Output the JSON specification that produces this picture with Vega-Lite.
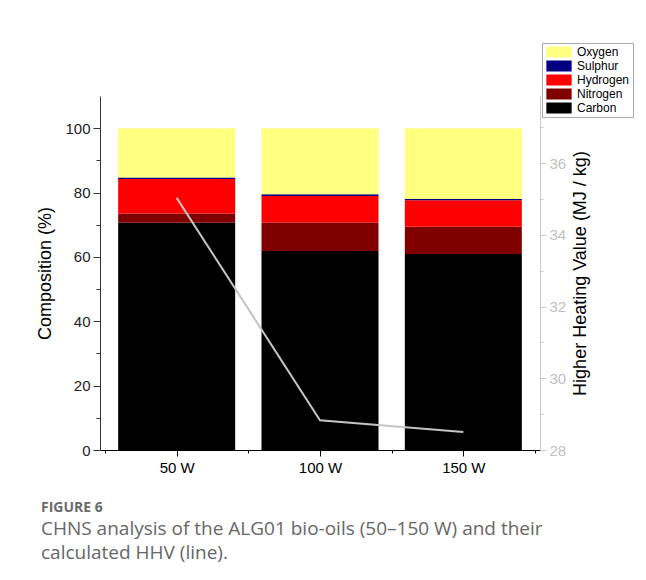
{
  "$schema": "https://vega.github.io/schema/vega-lite/v6.json",
  "width": 440,
  "height": 354,
  "autosize": {"type": "none"},
  "padding": {"left": 100, "top": 96, "right": 106, "bottom": 130},
  "background": "white",
  "config": {
    "view": {"stroke": null},
    "font": "Liberation Sans",
    "axis": {"labelFont": "Liberation Sans", "titleFont": "Liberation Sans", "titleFontWeight": "normal", "grid": false}
  },
  "title": {
    "text": "FIGURE 6",
    "subtitle": ["CHNS analysis of the ALG01 bio-oils (50–150 W) and their", "calculated HHV (line)."],
    "orient": "bottom",
    "anchor": "start",
    "frame": "bounds",
    "font": "Open Sans",
    "fontSize": 14,
    "fontWeight": "bold",
    "color": "#6a6a6a",
    "subtitleFont": "Open Sans",
    "subtitleFontSize": 19,
    "subtitleColor": "#666666",
    "subtitleLineHeight": 24,
    "subtitlePadding": 5,
    "offset": 26,
    "dx": 4
  },
  "datasets": {
    "comp": [
      {"power": 50, "element": "Carbon", "value": 70.6},
      {"power": 50, "element": "Nitrogen", "value": 2.9},
      {"power": 50, "element": "Hydrogen", "value": 10.7},
      {"power": 50, "element": "Sulphur", "value": 0.5},
      {"power": 50, "element": "Oxygen", "value": 15.3},
      {"power": 100, "element": "Carbon", "value": 61.8},
      {"power": 100, "element": "Nitrogen", "value": 8.9},
      {"power": 100, "element": "Hydrogen", "value": 8.2},
      {"power": 100, "element": "Sulphur", "value": 0.6},
      {"power": 100, "element": "Oxygen", "value": 20.5},
      {"power": 150, "element": "Carbon", "value": 60.9},
      {"power": 150, "element": "Nitrogen", "value": 8.5},
      {"power": 150, "element": "Hydrogen", "value": 8.2},
      {"power": 150, "element": "Sulphur", "value": 0.4},
      {"power": 150, "element": "Oxygen", "value": 22.0}
    ],
    "hhv": [
      {"power": 50, "hhv": 35.03},
      {"power": 100, "hhv": 28.83},
      {"power": 150, "hhv": 28.5}
    ]
  },
  "layer": [
    {
      "data": {"name": "comp"},
      "transform": [
        {"calculate": "indexof(['Carbon','Nitrogen','Hydrogen','Sulphur','Oxygen'], datum.element)", "as": "ord"}
      ],
      "mark": {"type": "bar", "width": 117},
      "encoding": {
        "x": {
          "field": "power",
          "type": "quantitative",
          "scale": {"domain": [25, 175], "nice": false, "zero": false},
          "axis": {
            "title": null,
            "values": [25, 50, 75, 100, 125, 150, 175],
            "labelExpr": "datum.value % 50 === 0 ? datum.value + ' W' : ''",
            "tickSize": {"condition": {"test": "datum.value % 50 === 0", "value": 6}, "value": 3},
            "domainColor": "#000000",
            "tickColor": "#000000",
            "labelColor": "#000000",
            "labelFontSize": 15,
            "labelPadding": 4,
            "labelFlush": false
          }
        },
        "y": {
          "field": "value",
          "type": "quantitative",
          "stack": "zero",
          "scale": {"domain": [0, 110], "nice": false},
          "axis": {
            "title": "Composition (%)",
            "titleFontSize": 18,
            "titleColor": "#000000",
            "titlePadding": 10,
            "values": [0, 10, 20, 30, 40, 50, 60, 70, 80, 90, 100],
            "labelExpr": "datum.value % 20 === 0 ? datum.label : ''",
            "tickSize": {"condition": {"test": "datum.value % 20 === 0", "value": 7}, "value": 4},
            "domainColor": "#333333",
            "tickColor": "#333333",
            "labelColor": "#222222",
            "labelFontSize": 15,
            "labelPadding": 3
          }
        },
        "color": {
          "field": "element",
          "type": "nominal",
          "scale": {
            "domain": ["Oxygen", "Sulphur", "Hydrogen", "Nitrogen", "Carbon"],
            "range": ["#FFFF80", "#000080", "#FF0000", "#800000", "#000000"]
          },
          "legend": {
            "title": null,
            "orient": "none",
            "legendX": 442,
            "legendY": -53,
            "symbolType": "M-2.3,-1H2.3V1H-2.3Z",
            "symbolSize": 121,
            "symbolStrokeWidth": 0,
            "symbolOffset": 8,
            "labelFont": "Liberation Sans",
            "labelFontSize": 12,
            "labelColor": "#000000",
            "labelOffset": 12,
            "rowPadding": 2,
            "padding": 3,
            "strokeColor": "#aaaaaa",
            "fillColor": "#ffffff"
          }
        },
        "order": {"field": "ord", "type": "quantitative"}
      }
    },
    {
      "data": {"name": "hhv"},
      "mark": {"type": "line", "color": "#c4c4c4", "strokeWidth": 2},
      "encoding": {
        "x": {"field": "power", "type": "quantitative"},
        "y": {
          "field": "hhv",
          "type": "quantitative",
          "scale": {"domain": [28, 37.87], "nice": false, "zero": false},
          "axis": {
            "orient": "right",
            "title": "Higher Heating Value (MJ / kg)",
            "titleFontSize": 18,
            "titleColor": "#000000",
            "titleAngle": 270,
            "titleBaseline": "top",
            "titlePadding": 6,
            "values": [28, 29, 30, 31, 32, 33, 34, 35, 36, 37],
            "labelExpr": "datum.value % 2 === 0 ? datum.label : ''",
            "tickSize": {"condition": {"test": "datum.value % 2 === 0", "value": 6}, "value": 3},
            "domainColor": "#c8c8c8",
            "tickColor": "#c8c8c8",
            "labelColor": "#c0c0c0",
            "labelFontSize": 15,
            "labelPadding": 3
          }
        }
      }
    }
  ],
  "resolve": {"scale": {"y": "independent"}}
}
